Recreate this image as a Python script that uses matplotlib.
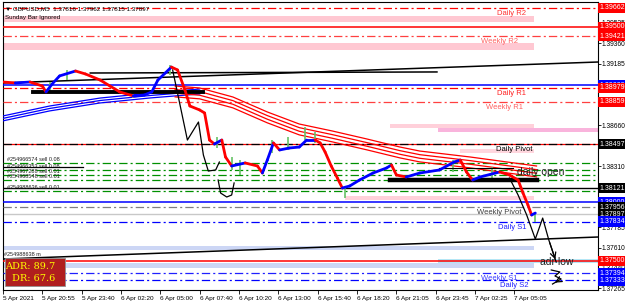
import numpy as np
import matplotlib.pyplot as plt
import matplotlib.transforms as mtransforms
from matplotlib.patches import Rectangle

plt.rcParams['font.family'] = ['Liberation Sans', 'DejaVu Sans']
plt.rcParams['lines.scale_dashes'] = False

# close path of GBPUSD M5 (bar index, price)
bars = [0, 10, 22, 32, 35, 40, 46, 59, 67, 79, 87, 95, 106, 115, 121, 126, 132, 137, 142, 148,
        152, 160, 164, 168, 172, 178, 181, 186, 197, 207, 211, 215, 220, 225, 233, 241, 247, 254, 258, 262,
        267, 272, 276, 282, 290, 301, 312, 316, 320, 328, 339, 355, 367, 372, 377, 382, 388, 404, 412, 419,
        423, 427, 430, 433]
price = [1.39028, 1.39020, 1.39028, 1.38994, 1.38943, 1.39011, 1.39080, 1.39122, 1.39097, 1.39045,
         1.38994, 1.38943, 1.38909, 1.38917, 1.38943, 1.39045, 1.39105, 1.39156, 1.39131, 1.38960,
         1.38823, 1.38789, 1.38763, 1.38532, 1.38498, 1.38532, 1.38387, 1.38310, 1.38336, 1.38310,
         1.38250, 1.38361, 1.38507, 1.38447, 1.38464, 1.38472, 1.38532, 1.38532, 1.38507, 1.38430,
         1.38310, 1.38207, 1.38122, 1.38139, 1.38190, 1.38250, 1.38293, 1.38319, 1.38233, 1.38216,
         1.38250, 1.38276, 1.38344, 1.38361, 1.38259, 1.38190, 1.38216, 1.38259, 1.38233, 1.38190,
         1.38079, 1.37977, 1.37891, 1.37908]

# a few visible candle wicks
wick_bar = [38, 52, 106, 136, 174, 186, 193, 219, 232, 246, 254, 278, 366, 398, 433]
wick_low = [1.38934, 1.39045, 1.38891, 1.39088, 1.38464, 1.38276, 1.38233, 1.38421, 1.38447,
            1.38532, 1.38507, 1.38036, 1.38259, 1.38207, 1.37831]
wick_high = [1.39028, 1.39131, 1.38943, 1.39174, 1.38558, 1.38387, 1.38361, 1.38532, 1.38558,
             1.38643, 1.38601, 1.38130, 1.38361, 1.38301, 1.37908]

# moving average envelopes
ma_blue_bar = [0, 38, 79, 120, 160]
ma_blue = [1.38738, 1.38823, 1.38891, 1.38934, 1.38968]
ma_red_bar = [140, 160, 187, 215, 241, 268, 296, 323, 339, 380, 434]
ma_red = [1.38994, 1.38977, 1.38900, 1.38772, 1.38669, 1.38609, 1.38541, 1.38472, 1.38438, 1.38387, 1.38310]

# pivot levels
pivot_names = ['Daily R2', 'Weekly R2', 'Daily R1', 'Weekly R1', 'Daily Pivot',
               'Weekly Pivot', 'Daily S1', 'Weekly S1', 'Daily S2']
pivot_values = [1.39662, 1.39421, 1.38979, 1.38859, 1.38497, 1.37956, 1.37834, 1.37394, 1.37333]
pivot_colors = ['#ff0000', '#ff4040', '#ff0000', '#ff4040', '#000000',
                '#808080', '#0000ff', '#2020ff', '#0000ff']
pivot_text_colors = ['#ff3030', '#ff6060', '#ff2020', '#ff6060', '#000000',
                     '#404040', '#2020ff', '#4040ff', '#2020ff']
pivot_label_x = [414, 404, 414, 408, 416, 404, 414, 404, 416]

round_levels = [1.39500, 1.39000, 1.38000, 1.37500]
round_colors = ['#ff0000', '#0000ff', '#0000ff', '#ff0000']

order_names = ['#254966574 sell 0.08', '#254966353 sell 0.08', '#254967288 sell 0.01',
               '#254968548 sell 0.01', '#254988636 sell 0.01']
order_prices = [1.38336, 1.38276, 1.38233, 1.38190, 1.38096]

# zones: start bar, end bar, low, high, colour
zone_x0 = [0, 0, 315, 354, 372, 278, 0, 354, 0]
zone_x1 = [432, 432, 432, 484, 432, 432, 432, 484, 432]
zone_lo = [1.39541, 1.39302, 1.38635, 1.38601, 1.38421, 1.38019, 1.37592, 1.37481, 1.37438]
zone_hi = [1.39593, 1.39362, 1.38669, 1.38635, 1.38455, 1.38053, 1.37626, 1.37515, 1.37481]
zone_col = ['#ffc8d2', '#ffc8d2', '#ffd0da', '#f9b4dc', '#ffd6de', '#ffd0da', '#ccd6f5', '#b4e6f5', '#ccd6f5']

# hand-drawn forecast paths
draw1_bar = [138, 144, 150, 154, 159, 163, 167, 173, 176]
draw1 = [1.39131, 1.38832, 1.38532, 1.38601, 1.38686, 1.38404, 1.38267, 1.38276, 1.38344]
draw2_bar = [175, 177, 182, 186, 188]
draw2 = [1.38190, 1.38079, 1.38045, 1.38062, 1.38165]
draw3_bar = [412, 419, 426, 433, 439, 444, 450]
draw3 = [1.38207, 1.38062, 1.37891, 1.37686, 1.37865, 1.37677, 1.37489]
draw4_bar = [446, 453, 449, 454, 447]
draw4 = [1.37421, 1.37404, 1.37370, 1.37344, 1.37301]

# right price scale
tick_prices = [1.37265, 1.37440, 1.37610, 1.37785, 1.37960, 1.38135, 1.38310, 1.38485,
               1.38660, 1.38835, 1.39010, 1.39185, 1.39360, 1.39535]
box_prices = [1.39662, 1.39500, 1.39421, 1.39000, 1.38979, 1.38859, 1.38497, 1.38121,
              1.38000, 1.37956, 1.37897, 1.37834, 1.37500, 1.37394, 1.37333]
box_colors = ['#ff0000', '#ff0000', '#ff0000', '#0000ff', '#ff0000', '#ff0000', '#000000', '#000000',
              '#0000ff', '#000000', '#000000', '#0000ff', '#ff0000', '#0000ff', '#0000ff']

time_ticks = [0, 32, 64, 96, 128, 160, 192, 224, 256, 288, 320, 352, 384, 416]
time_labels = ['5 Apr 2021', '5 Apr 20:55', '5 Apr 23:40', '6 Apr 02:20', '6 Apr 05:00',
               '6 Apr 07:40', '6 Apr 10:20', '6 Apr 13:00', '6 Apr 15:40', '6 Apr 18:20',
               '6 Apr 21:05', '6 Apr 23:45', '7 Apr 02:25', '7 Apr 05:05']

fig = plt.figure(figsize=(6.25, 3.05), dpi=100)
ax = fig.add_axes([3 / 625, 15 / 305, 595 / 625, 288 / 305])
ax.set_xlim(0, 484)
ax.set_ylim(1.37250, 1.39712)

dashdot = (0, (6, 2.2, 1.5, 2.2))

for x0, x1, lo, hi, c in zip(zone_x0, zone_x1, zone_lo, zone_hi, zone_col):
    ax.fill_between([x0, x1], lo, hi, color=c, lw=0, zorder=1)

for p, c in zip(pivot_values, pivot_colors):
    ax.axhline(p, color=c, lw=0.9, ls=dashdot, zorder=3)
for p, c in zip(round_levels, round_colors):
    ax.axhline(p, color=c, lw=1.1, zorder=3)
ax.axhline(1.38497, color='#ff0000', lw=0.9, zorder=2)
ax.axhline(1.38121, color='black', lw=1.0, zorder=3)
ax.axhline(1.37897, color='#c8c8c8', lw=1.0, zorder=2)

for p in order_prices:
    ax.axhline(p, color='#009000', lw=0.9, ls=dashdot, zorder=3)
for name, p in zip(order_names, order_prices):
    ax.annotate(name, (3, p), xytext=(0, 0.5), textcoords='offset points',
                fontsize=4, color='#202020', va='bottom', zorder=6)

# trend lines and horizontal objects
ax.plot([0, 484], [1.39020, 1.39199], color='black', lw=1.1, zorder=4)
ax.plot([71, 353], [1.39105, 1.39114], color='black', lw=1.1, zorder=4)
ax.plot([0, 484], [1.37515, 1.37703], color='black', lw=1.1, zorder=4)
ax.plot([24, 163], [1.38940, 1.38940], color='black', lw=2.8, zorder=6)
ax.plot([315, 434], [1.38190, 1.38190], color='black', lw=3.2, zorder=6)
ax.plot([355, 415], [1.38293, 1.38293], color='black', lw=0.8, zorder=6)
ax.plot([0, 65], [1.38301, 1.38301], color='black', lw=0.9, zorder=6)

# MA envelopes
for k in range(3):
    ax.plot(ma_blue_bar, np.array(ma_blue) - k * 0.00021, color='#0000ff', lw=0.9, zorder=4)
for k in range(4):
    ax.plot(ma_red_bar, np.array(ma_red) - k * 0.00031, color='#ff0000', lw=0.9, zorder=4)

# candles and price
ax.vlines(wick_bar, wick_low, wick_high, color='#66c266', lw=1.2, zorder=5)
ax.plot(bars, price, color='#80d080', lw=0.7, zorder=5)
for i in range(len(bars) - 1):
    c = '#ff0000' if price[i + 1] < price[i] else '#0000ff'
    ax.plot(bars[i:i + 2], price[i:i + 2], color=c, lw=2.0, solid_capstyle='round', zorder=7)

# hand-drawn paths
for xs, ys in [(draw1_bar, draw1), (draw2_bar, draw2), (draw3_bar, draw3), (draw4_bar, draw4)]:
    ax.plot(xs, ys, color='black', lw=0.9, zorder=8)
ax.annotate('', xy=(draw3_bar[-1], draw3[-1]), xytext=(draw3_bar[-2], draw3[-2]),
            arrowprops=dict(arrowstyle='->', color='black', lw=0.9), zorder=8)
ax.annotate('', xy=(draw4_bar[-1], draw4[-1]), xytext=(draw4_bar[-2], draw4[-2]),
            arrowprops=dict(arrowstyle='->', color='black', lw=0.9), zorder=8)

# pivot labels
for name, p, c, x in zip(pivot_names, pivot_values, pivot_text_colors, pivot_label_x):
    ax.annotate(name, (x, p), xytext=(0, -1.5), textcoords='offset points',
                fontsize=5.5, color=c, ha='center', va='top', zorder=9)
ax.text(418, 1.38259, 'daily open', fontsize=7.5, color='#202020', va='center', zorder=9)
ax.text(437, 1.37489, 'adr low', fontsize=7.5, color='#202020', va='center', zorder=9)
ax.text(1, 1.37530, '#254988638 m', fontsize=4, color='#202020', va='bottom', zorder=9)

# header
ax.text(0.004, 0.978, '\u25bc GBPUSD,M5  1.37816 1.37962 1.37815 1.37897', transform=ax.transAxes,
        fontsize=4.5, va='center', zorder=9)
ax.text(0.004, 0.945, 'Sunday Bar Ignored', transform=ax.transAxes, fontsize=4.5, va='center', zorder=9)

# ADR box
ax.add_patch(Rectangle((0.004, 0.014), 0.1, 0.097, transform=ax.transAxes, fc='#b01e1e',
                       ec='#909090', lw=0.6, zorder=20, clip_on=False))
ax.text(0.088, 0.083, 'ADR: 89.7', transform=ax.transAxes, family='DejaVu Serif', fontsize=7,
        color='#ffff00', ha='right', va='center', zorder=21)
ax.text(0.088, 0.040, 'DR: 67.6', transform=ax.transAxes, family='DejaVu Serif', fontsize=7,
        color='#ffff00', ha='right', va='center', zorder=21)

# axes
ax.yaxis.tick_right()
ax.set_yticks(tick_prices)
ax.set_yticklabels([f'{p:.5f}' for p in tick_prices])
ax.tick_params(axis='y', labelsize=4.8, length=2, pad=0.8, width=0.6)
ax.set_xticks(time_ticks)
ax.set_xticklabels(time_labels, ha='left')
ax.tick_params(axis='x', labelsize=4.6, length=3, pad=1.5, width=0.6)
for s in ax.spines.values():
    s.set_linewidth(0.8)

trans = mtransforms.blended_transform_factory(ax.transAxes, ax.transData)
for p, c in zip(box_prices, box_colors):
    ax.text(1.003, p, f'{p:.5f}', transform=trans, fontsize=5, color='white', ha='left',
            va='center', zorder=30, clip_on=False,
            bbox=dict(boxstyle='square,pad=0.25', fc=c, ec='none'))

fig.savefig('out.png', dpi=100)
